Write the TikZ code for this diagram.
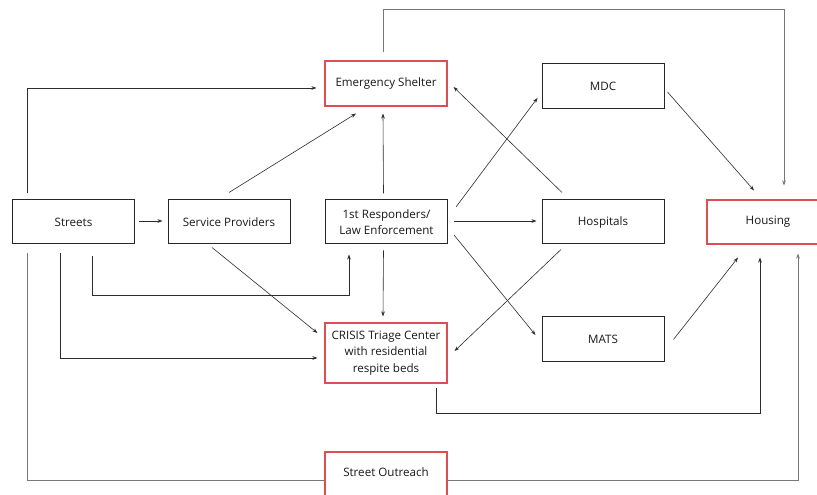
\documentclass[tikz,border=0pt]{standalone}
\usepackage{fontspec}
\setmainfont{Open Sans}
\usetikzlibrary{arrows.meta,calc}
\definecolor{boxred}{RGB}{220,78,84}
\definecolor{lineDark}{RGB}{45,45,45}
\definecolor{lineGray}{RGB}{120,120,120}
\tikzset{
  box/.style={draw=black!85,line width=1pt,minimum width=122pt,minimum height=44pt,inner sep=0pt,align=center,font=\fontsize{11.6}{16.5}\selectfont,text=black!90},
  redbox/.style={box,draw=boxred,line width=1.15pt},
  arr/.style={draw=lineDark,line width=0.6pt,-{Stealth[length=5pt,width=3.6pt]}},
  grayarr/.style={arr,draw=lineGray},
  plain/.style={draw=lineGray,line width=0.6pt}
}
\begin{document}
\begin{tikzpicture}[x=1pt,y=1pt]
\useasboundingbox (0,0) rectangle (817,495);
\fill[white] (0,0) rectangle (817,495);
% nodes
\node[box] (streets) at (73.5,273) {Streets};
\node[box] (sp) at (229,273) {Service Providers};
\node[box] (resp) at (386.5,273) {1st Responders/\\Law Enforcement};
\node[redbox,minimum height=45pt] (es) at (386,411.5) {Emergency Shelter};
\node[box,minimum height=45pt] (mdc) at (603,408.5) {MDC};
\node[box] (hosp) at (603,273) {Hospitals};
\node[redbox] (housing) at (768,273) {Housing};
\node[redbox,minimum height=60pt] (crisis) at (386,142) {CRISIS Triage Center\\with residential\\respite beds};
\node[box,minimum height=45pt] (mats) at (603,155.5) {MATS};
\node[redbox,minimum height=46pt,text depth=0pt] (outreach) at (386,20) {\raisebox{6pt}{Street Outreach}};
% helper coordinates
\coordinate (topY) at (0,486);
\coordinate (lowY) at (0,82);
\coordinate (midY) at (0,200);
\coordinate (esN) at ([xshift=-3pt,yshift=8pt]es.north);
\coordinate (crS) at ([xshift=-11pt,yshift=-4pt]crisis.south east);
\coordinate (stA) at ([xshift=80pt,yshift=-12pt]streets.south west);
% connectors
\draw[arr] ([xshift=15pt,yshift=6pt]streets.north west) |- ([xshift=-8pt,yshift=-4.5pt]es.west);
\draw[arr] ([xshift=4pt,yshift=1pt]streets.east) -- ([xshift=-5pt,yshift=1pt]sp.west);
\draw[arr] ([yshift=7pt]sp.north) -- ([xshift=-30pt,yshift=-7pt]es.south);
\draw[arr] ([xshift=-3pt,yshift=6pt]resp.north) -- ([xshift=-3pt,yshift=-7pt]es.south);
\draw[grayarr] (esN) -- (esN |- topY) -| ([xshift=16pt,yshift=14pt]housing.north);
\draw[arr] ([xshift=-41pt,yshift=7pt]hosp.north) -- ([xshift=6pt,yshift=-3.5pt]es.east);
\draw[arr] ([xshift=8pt,yshift=15pt]resp.east) -- ([xshift=-4pt,yshift=-11.5pt]mdc.west);
\draw[arr] ([xshift=6pt,yshift=1pt]resp.east) -- ([xshift=-5pt,yshift=1pt]hosp.west);
\draw[arr] ([xshift=3pt,yshift=-5.5pt]mdc.east) -- ([xshift=-14pt,yshift=9pt]housing.north);
\draw[arr] ([xshift=6pt,yshift=-13pt]resp.east) -- ([xshift=-6pt,yshift=4.5pt]mats.west);
\draw[arr] ([xshift=-42pt,yshift=-5pt]hosp.south) -- ([xshift=7pt,yshift=2pt]crisis.east);
\draw[arr] ([xshift=9pt]mats.east) -- ([xshift=-30pt,yshift=-13pt]housing.south);
\draw[arr] (crS) -- (crS |- lowY) -| ([xshift=-8pt,yshift=-13pt]housing.south);
\draw[grayarr] ([yshift=-5pt]outreach.east) -| ([xshift=30pt,yshift=-9pt]housing.south);
\draw[plain] ([xshift=15pt,yshift=-9pt]streets.south west) |- ([yshift=-5pt]outreach.west);
\draw[arr] ([xshift=48pt,yshift=-9pt]streets.south west) |- ([xshift=-7pt,yshift=-5pt]crisis.west);
\draw[arr] (stA) -- (stA |- midY) -| ([xshift=-37.5pt,yshift=-10pt]resp.south);
\draw[arr] ([xshift=-17pt,yshift=-3pt]sp.south) -- ([xshift=-7pt,yshift=20pt]crisis.west);
\draw[arr] ([xshift=-3pt,yshift=-6pt]resp.south) -- ([xshift=-3pt,yshift=6pt]crisis.north);
\end{tikzpicture}
\end{document}
